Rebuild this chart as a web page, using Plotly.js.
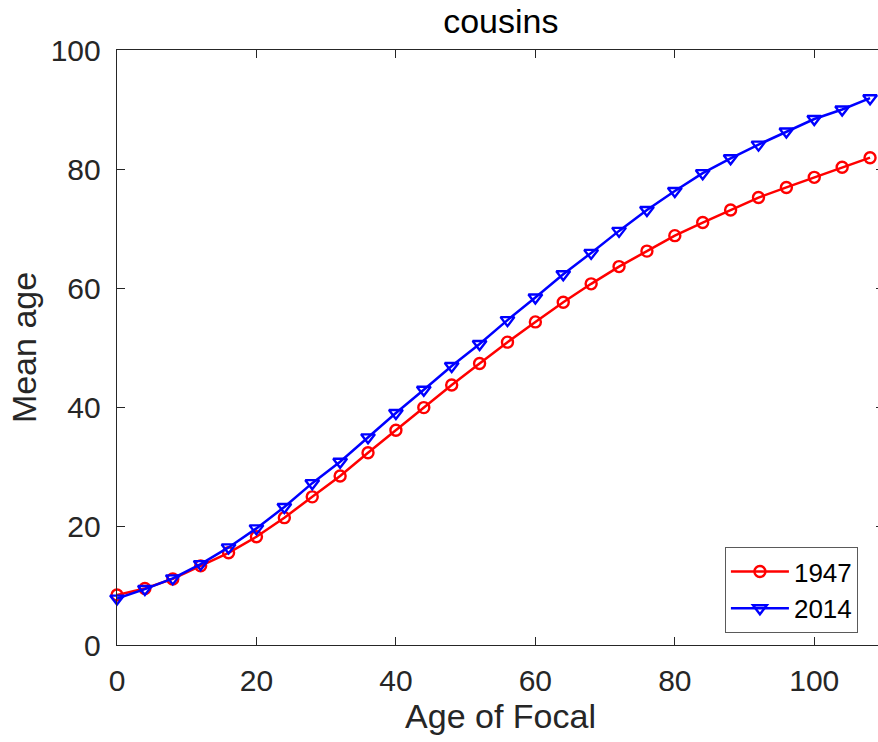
<!DOCTYPE html>
<html>
<head>
<meta charset="utf-8">
<script src="https://cdn.plot.ly/plotly-3.0.1.min.js"></script>
<style>
html, body { margin: 0; padding: 0; overflow: hidden; background: #fff; }
#chart { width: 884px; height: 742px; }
</style>
</head>
<body>
<div id="chart"></div>
<script>
const ages = [0, 4, 8, 12, 16, 20, 24, 28, 32, 36, 40, 44, 48, 52, 56, 60, 64, 68, 72, 76, 80, 84, 88, 92, 96, 100, 104, 108];
const mean1947 = [8.4, 9.5, 11.1, 13.3, 15.5, 18.2, 21.4, 24.9, 28.4, 32.3, 36.1, 39.9, 43.7, 47.3, 50.9, 54.3, 57.6, 60.7, 63.6, 66.2, 68.8, 71.0, 73.1, 75.2, 76.9, 78.6, 80.3, 81.9];
const mean2014 = [7.8, 9.4, 11.2, 13.6, 16.4, 19.6, 23.2, 27.2, 30.8, 34.9, 39.0, 42.9, 46.9, 50.6, 54.6, 58.4, 62.3, 65.9, 69.6, 73.1, 76.3, 79.3, 81.8, 84.1, 86.3, 88.4, 90.0, 91.9];
const seriesNames = ["1947", "2014"];
const xTicks = [0, 20, 40, 60, 80, 100];
const yTicks = [0, 20, 40, 60, 80, 100];

const font = "Liberation Sans, Arial, Helvetica, sans-serif";
const axisColor = "#262626";

const traces = [
  {
    x: ages, y: mean1947, name: seriesNames[0], type: "scatter", mode: "lines+markers", cliponaxis: false,
    line: { color: "#ff0000", width: 2.5 },
    marker: { symbol: "circle-open", size: 11, color: "#ff0000", line: { width: 2.4, color: "#ff0000" } }
  },
  {
    x: ages, y: mean2014, name: seriesNames[1], type: "scatter", mode: "lines+markers", cliponaxis: false,
    line: { color: "#0000ff", width: 2.5 },
    marker: { symbol: "triangle-down-open", size: 12, color: "#0000ff", line: { width: 2.4, color: "#0000ff" } }
  }
];

const layout = {
  width: 884, height: 742,
  margin: { l: 117, r: 0, t: 50, b: 97 },
  paper_bgcolor: "#ffffff", plot_bgcolor: "#ffffff",
  font: { family: font, color: axisColor },
  title: { text: "cousins", font: { family: font, size: 34, color: "#000000" }, x: 0.5665, xanchor: "center", y: 0.988, yanchor: "top" },
  showlegend: true,
  legend: {
    x: 0.966, y: 0.02, xanchor: "right", yanchor: "bottom",
    bgcolor: "#ffffff", bordercolor: "#5a5a5a", borderwidth: 1,
    font: { family: font, size: 26, color: "#000000" },
    itemwidth: 58, tracegroupgap: 0
  },
  xaxis: {
    range: [0, 110], tickvals: xTicks, ticktext: xTicks.map(String),
    showgrid: false, zeroline: false, showline: true, mirror: "ticks",
    linecolor: axisColor, linewidth: 1.3, ticks: "inside", ticklen: 8, tickwidth: 1, tickcolor: axisColor,
    ticklabelstandoff: 9,
    tickfont: { family: font, size: 30, color: axisColor },
    title: { text: "Age of Focal", font: { family: font, size: 34, color: axisColor }, standoff: 6 }
  },
  yaxis: {
    range: [0, 100], tickvals: yTicks, ticktext: yTicks.map(String),
    showgrid: false, zeroline: false, showline: true, mirror: "ticks",
    linecolor: axisColor, linewidth: 1.3, ticks: "inside", ticklen: 8, tickwidth: 1, tickcolor: axisColor,
    ticklabelstandoff: 9,
    tickfont: { family: font, size: 30, color: axisColor },
    title: { text: "Mean age", font: { family: font, size: 34, color: axisColor }, standoff: 3 }
  }
};

Plotly.newPlot("chart", traces, layout, { displayModeBar: false, staticPlot: true });
</script>
</body>
</html>
